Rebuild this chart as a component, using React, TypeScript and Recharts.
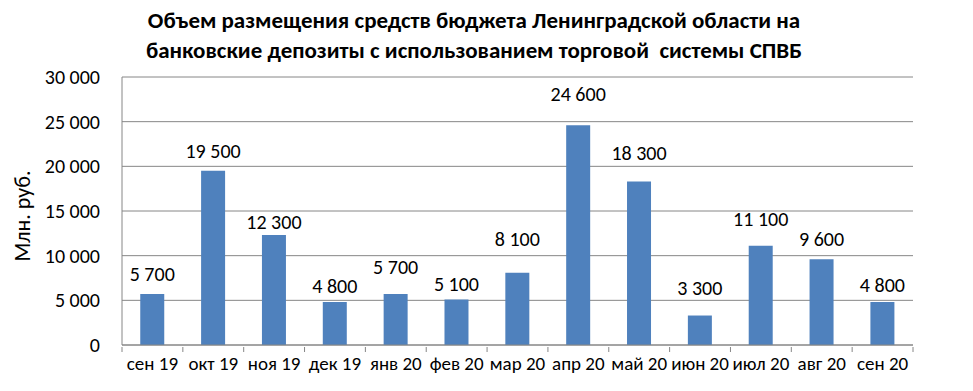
import { BarChart, Bar, XAxis, YAxis, CartesianGrid, LabelList } from 'recharts';

const months = ['сен 19', 'окт 19', 'ноя 19', 'дек 19', 'янв 20', 'фев 20', 'мар 20', 'апр 20', 'май 20', 'июн 20', 'июл 20', 'авг 20', 'сен 20'];
const volumes = [5700, 19500, 12300, 4800, 5700, 5100, 8100, 24600, 18300, 3300, 11100, 9600, 4800];
const yTicks = [0, 5000, 10000, 15000, 20000, 25000, 30000];
const titleLines = [
  'Объем размещения средств бюджета Ленинградской области на',
  'банковские депозиты с использованием торговой  системы СПВБ'
];

const data = months.map((m, i) => ({ month: m, value: volumes[i] }));

const fmt = (v: number) => String(v).replace(/\B(?=(\d{3})+(?!\d))/g, ' ');

const FONT = "Carlito, 'Liberation Sans Narrow', 'DejaVu Sans Condensed', sans-serif";
const GRAY = '#868686';
const W = 973;
const H = 391;
const M = { top: 77, right: 60, bottom: 16, left: 12 };
const Y_W = 110;
const STEP = (W - M.left - M.right - Y_W) / months.length;

// подписи в оригинале сдвинуты вручную — зазор над столбцом, px
const labelGap = [20, 20, 13, 16, 27, 15, 34, 31, 29, 28, 27, 20, 17];

// подпись месяца + засечки на границах категорий
const MonthTick = (props: any) => {
  const { x, y, payload, index } = props;
  const left = x - STEP / 2;
  return (
    <g>
      <line x1={left} x2={left} y1={y} y2={y + 5} stroke={GRAY} />
      {index === months.length - 1 && (
        <line x1={x + STEP / 2} x2={x + STEP / 2} y1={y} y2={y + 5} stroke={GRAY} />
      )}
      <text x={x} y={y + 23} textAnchor="middle" fontSize={19} fill="#000" fontFamily={FONT}>
        {payload.value}
      </text>
    </g>
  );
};

const ValueLabel = (props: any) => {
  const { x, y, width, value, index } = props;
  return (
    <text x={x + width / 2} y={y - labelGap[index] + 7} textAnchor="middle" fontSize={20} fill="#000" fontFamily={FONT}>
      {fmt(value)}
    </text>
  );
};

const AxisTitle = (props: any) => {
  const { viewBox } = props;
  const cx = 22;
  const cy = viewBox.y + viewBox.height / 2 + 5;
  return (
    <text x={cx} y={cy} transform={`rotate(-90, ${cx}, ${cy})`} textAnchor="middle" dominantBaseline="central" fontSize={22} fill="#000" fontFamily={FONT}>
      Млн. руб.
    </text>
  );
};

export default function App() {
  return (
    <div style={{ position: 'absolute', left: 0, top: 0, width: W, height: H, background: '#fff', fontFamily: FONT }}>
      {/* заголовок */}
      <div style={{ position: 'absolute', left: 0, top: 5, width: 948, textAlign: 'center', fontWeight: 'bold', fontSize: 23, lineHeight: '30px', color: '#000' }}>
        {titleLines.map((t) => (
          <div key={t} style={{ whiteSpace: 'pre' }}>{t}</div>
        ))}
      </div>
      <BarChart
        width={W}
        height={H}
        data={data}
        margin={M}
        barCategoryGap="30%"
        style={{ position: 'absolute', left: 0, top: 0 }}
      >
        <CartesianGrid vertical={false} stroke={GRAY} />
        <XAxis
          dataKey="month"
          tickLine={false}
          tickSize={0}
          axisLine={{ stroke: GRAY }}
          tick={<MonthTick />}
          interval={0}
          height={30}
        />
        <YAxis
          width={Y_W}
          domain={[0, 30000]}
          ticks={yTicks}
          tickFormatter={fmt}
          tickLine={false}
          tickSize={0}
          tickMargin={22}
          axisLine={{ stroke: GRAY }}
          tick={{ fontSize: 20, fill: '#000', fontFamily: FONT }}
          label={<AxisTitle />}
        />
        <Bar dataKey="value" fill="#4F81BD" isAnimationActive={false}>
          <LabelList dataKey="value" content={<ValueLabel />} />
        </Bar>
      </BarChart>
    </div>
  );
}
